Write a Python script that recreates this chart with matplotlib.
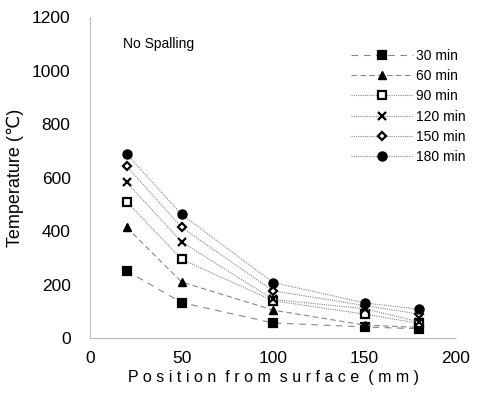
import matplotlib
matplotlib.use('Agg')
import matplotlib.pyplot as plt

plt.rcParams['font.family'] = ['Liberation Sans', 'DejaVu Sans']

# Datos
positions = [20, 50, 100, 150, 180]
labels = ['30 min', '60 min', '90 min', '120 min', '150 min', '180 min']
t30 = [252, 133, 57, 42, 35]
t60 = [414, 210, 105, 49, 40]
t90 = [510, 295, 140, 90, 55]
t120 = [582, 360, 145, 110, 61]
t150 = [643, 414, 177, 122, 90]
t180 = [688, 463, 208, 132, 108]
series = [t30, t60, t90, t120, t150, t180]

markers = ['s', '^', 's', 'x', 'D', 'o']
faces = ['black', 'black', 'white', 'black', 'white', 'black']
styles = [(0, (6, 5)), (0, (5, 3)), (0, (1, 1)), (0, (1, 1)), (0, (1, 1)), (0, (1, 1))]
sizes = [6, 6, 6, 6, 4.5, 6.5]

fig = plt.figure(figsize=(4.79, 3.96), dpi=100)
ax = fig.add_axes([0.188, 0.146, 0.764, 0.811])

for vals, lab, m, fc, ls, ms in zip(series, labels, markers, faces, styles, sizes):
    ax.plot(positions, vals, color='#888888', linewidth=0.8, linestyle=ls,
            marker=m, markersize=ms, markerfacecolor=fc, markeredgecolor='black',
            markeredgewidth=1.6 if m in ('x', 's', 'D') else 1, label=lab)

ax.set_xlim(0, 200)
ax.set_ylim(0, 1200)
ax.set_xticks([0, 50, 100, 150, 200])
ax.set_yticks(range(0, 1201, 200))
ax.tick_params(length=0, labelsize=12.5)
ax.tick_params(axis='y', pad=14)
ax.tick_params(axis='x', pad=9)
for s in ['top', 'right']:
    ax.spines[s].set_visible(False)
for s in ['left', 'bottom']:
    ax.spines[s].set_color('#bbbbbb')
    ax.spines[s].set_linestyle((0, (1, 1)))
    ax.spines[s].set_linewidth(0.8)

ax.set_xlabel('P o s i t i o n  f r o m  s u r f a c e  ( m m )', fontsize=11.5, labelpad=3)
ax.set_ylabel('Temperature (℃)', fontsize=13, labelpad=6)
ax.text(18, 1085, 'No Spalling', fontsize=10)

ax.legend(loc='upper right', bbox_to_anchor=(1.06, 0.94), frameon=False, fontsize=10,
          handlelength=4.5, labelspacing=0.45, handletextpad=0.2)

fig.savefig('out.png', dpi=100)
